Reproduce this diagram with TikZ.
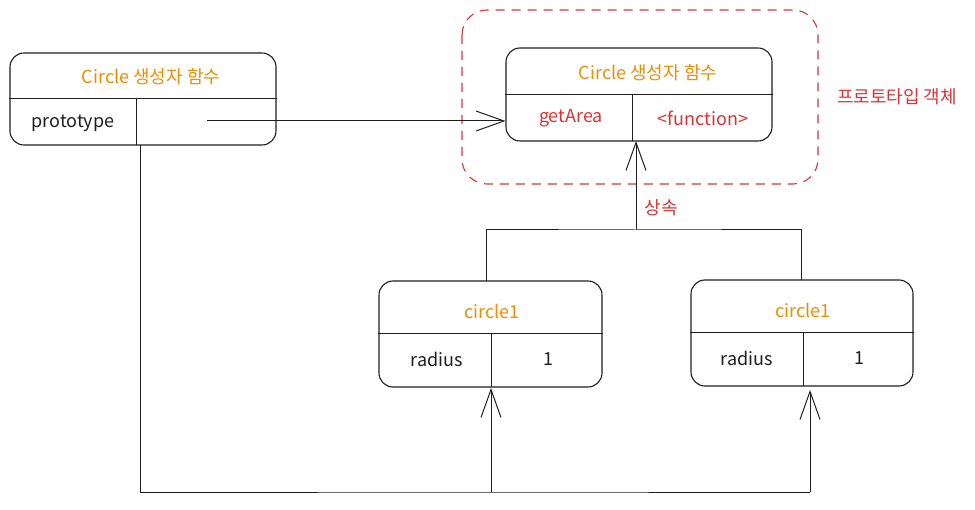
\documentclass[tikz,border=0pt]{standalone}
\usepackage{fontspec}
\setmainfont{Noto Sans CJK KR}
\usetikzlibrary{arrows.meta}
\definecolor{exorange}{HTML}{F08C00}
\definecolor{exred}{HTML}{E03131}
\definecolor{exink}{HTML}{1E1E1E}
\begin{document}
\begin{tikzpicture}[x=1pt,y=-1pt,>={Straight Barb[length=28pt,width=20pt]},
  every node/.style={font=\fontsize{18}{21}\selectfont},
  obj/.style={draw=exink,line width=1.1pt,rounded corners=14pt,inner sep=0pt},
  ttl/.style={text=exorange},
  fld/.style={text=exink},
  proto/.style={text=exred},
  wire/.style={draw=exink,line width=1pt}]
  \useasboundingbox (0,0) rectangle (975,510);
  \draw [exred,line width=1.1pt,dash pattern=on 9pt off 7pt,rounded corners=25pt]
   (462,10) rectangle (818,184);
  \node [proto] (plabel) at (897,97) {프로토타입 객체};
  \node [obj,minimum width=266pt,minimum height=92pt] (ctor) at (143,99) {};
  \draw [wire] (ctor.west) -- (ctor.east);
  \draw [wire] (136,99) -- (136,145);
  \node [ttl] (ctortitle) at (151,77) {Circle 생성자 함수};
  \node [fld] (ctorkey) at (73,123) {prototype};
  \coordinate (ctorval) at (207,121);
  \node [obj,minimum width=266pt,minimum height=93pt] (pobj) at (639,94.5) {};
  \draw [wire] (pobj.west) -- (pobj.east);
  \draw [wire] (632,94.5) -- (632,141);
  \node [ttl] (ptitle) at (648,73) {Circle 생성자 함수};
  \node [proto] (pkey) at (571,118) {getArea};
  \node [proto] (pval) at (703,118) {<function>};
  \node [obj,minimum width=223pt,minimum height=106pt] (inst1) at (490.5,334) {};
  \draw [wire] (inst1.west) -- (inst1.east);
  \draw [wire] (491,334) -- (491,387);
  \node [ttl] (inst1title) at (492,311) {circle1};
  \node [fld] (inst1key) at (437,359) {radius};
  \node [fld] (inst1val) at (548,359) {1};
  \node [obj,minimum width=222pt,minimum height=106pt] (inst2) at (802,333) {};
  \draw [wire] (inst2.west) -- (inst2.east);
  \draw [wire] (803,333) -- (803,386);
  \node [ttl] (inst2title) at (803,310) {circle1};
  \node [fld] (inst2key) at (747,358) {radius};
  \node [fld] (inst2val) at (859,358) {1};
  \draw [wire,->] (ctorval) -- (pobj.west |- ctorval);
  \coordinate (fork) at (636,230);
  \draw [wire] (486,281) |- (fork) -| (801,280);
  \draw [wire,->] (fork) -- (636,141) node [proto,right,pos=0.25,xshift=5pt] (inherit) {상속};
  \coordinate (bus) at (491,492);
  \draw [wire] (140,145) |- (bus) -- (810,492);
  \draw [wire,->] (bus) -- (491,388);
  \draw [wire,->] (810,492) -- (810,390);
 \end{tikzpicture}
\end{document}
